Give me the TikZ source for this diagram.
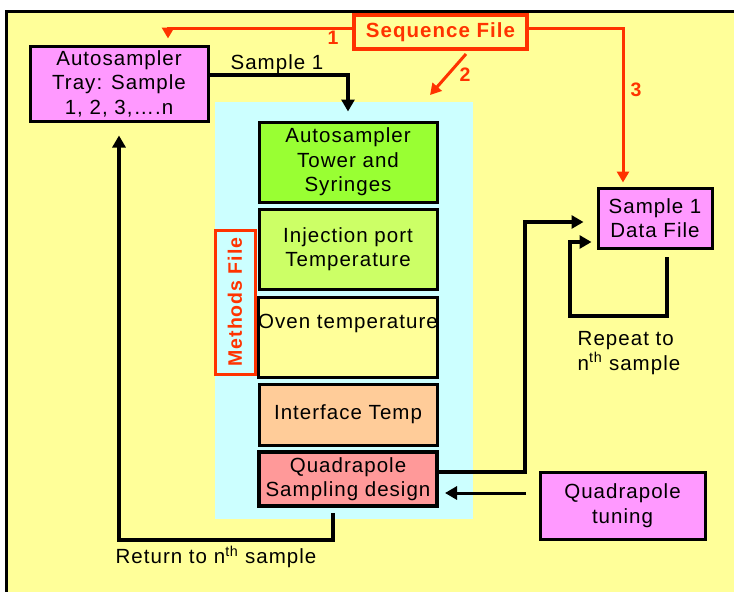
\documentclass[tikz,border=0pt]{standalone}
\usepackage{fontspec}
\setmainfont{Liberation Sans}[LetterSpace=5]
\usetikzlibrary{arrows.meta,calc}
\definecolor{bgyellow}{HTML}{FFFF99}
\definecolor{bgcyan}{HTML}{CCFFFF}
\definecolor{violetbox}{HTML}{FF99FF}
\definecolor{seqred}{HTML}{FF3300}
\definecolor{towergreen}{HTML}{99FF33}
\definecolor{injgreen}{HTML}{CCFF66}
\definecolor{ovenyellow}{HTML}{FFFF99}
\definecolor{ifpeach}{HTML}{FFCC99}
\definecolor{quadpink}{HTML}{FF9999}
\newcommand\myfs{\fontsize{20.5}{24.5}\selectfont}
\newcommand\mylab{\fontsize{19.5}{20}\selectfont\bfseries}
\begin{document}
\begin{tikzpicture}[x=1pt,y=-1pt,
  box/.style={draw=black, line width=3pt, align=center, inner sep=0pt, font=\myfs},
  redbox/.style={draw=seqred, line width=3.5pt, inner sep=0pt, text=seqred, font=\myfs\bfseries},
  blk/.style={draw=black, line width=4pt, -{Triangle[length=12pt,width=13pt]}},
  redarr/.style={draw=seqred, line width=3pt, -{Triangle[length=11pt,width=12pt]}},
  redlab/.style={text=seqred, font=\mylab, inner sep=0pt},
  plain/.style={font=\myfs, inner sep=0pt, align=left}]
\useasboundingbox (0,0) rectangle (734,592);
\fill[white] (0,0) rectangle (734,592);
\fill[bgyellow] (6,11) rectangle (734,592);
\draw[line width=3pt] (6,592) -- (6,11) -- (734,11);
% cyan methods area
\fill[bgcyan] (215,102) rectangle (473,519);

% nodes
\node[redbox, minimum width=173pt, minimum height=34pt] (seq) at (440.5,32) {Sequence File};
\node[box, fill=violetbox, minimum width=178pt, minimum height=75pt] (tray) at (119,83.5) {Autosampler\\Tray: Sample\\1, 2, 3,….n};
\node[box, fill=towergreen, minimum width=178pt, minimum height=80pt] (tower) at (348,162) {Autosampler\\Tower and\\Syringes};
\node[box, fill=injgreen, minimum width=178pt, minimum height=80pt] (inj) at (348,249) {Injection port\\Temperature};
\node[box, fill=ovenyellow, minimum width=178pt, minimum height=80pt] (oven) at (348,337) {Oven temperature\\\strut};
\node[box, fill=ifpeach, minimum width=178pt, minimum height=61pt] (iface) at (348,414.5) {Interface Temp};
\node[box, fill=quadpink, line width=3.5pt, minimum width=178pt, minimum height=54pt] (quad) at (348,479) {Quadrapole\\Sampling design};
\node[redbox, line width=3pt, rotate=90, minimum width=144pt, minimum height=40pt, font=\fontsize{19.5}{20}\selectfont\bfseries] (methods) at (235,302) {Methods File};
\node[box, fill=violetbox, minimum width=114pt, minimum height=60pt] (data) at (655,218) {Sample 1\\Data File};
\node[box, fill=violetbox, minimum width=165pt, minimum height=67pt] (tuning) at (622.5,505.5) {Quadrapole\\tuning};

% labels
\node[plain] (lsample) at (277,64) {Sample 1};
\node[plain] (lreturn) at (216,557) {Return to n\textsuperscript{th} sample};
\node[plain] (lrepeat) at (629,353) {Repeat to\\n\textsuperscript{th} sample};
\node[redlab] (l1) at (333,38) {1};
\node[redlab] (l2) at (465,75) {2};
\node[redlab] (l3) at (636,90) {3};

% red connectors
\draw[redarr, shorten >=6pt] ([yshift=4pt]seq.west) -| ([xshift=49pt]tray.north);
\coordinate (a2s) at (466,54);
\coordinate (a2e) at (430,95);
\draw[redarr] (a2s) -- (a2e);
\draw[redarr, shorten >=4pt] ([yshift=4pt]seq.east) -| ([xshift=-32pt]data.north);

% black connectors
\draw[blk, shorten >=9pt] ([yshift=9pt]tray.east) -| (tower.north);
\coordinate (rs) at (333,513);
\draw[blk, shorten >=13pt] (rs) -- (333,540) -| (tray.south);
\draw[blk, shorten >=13pt] ([yshift=7pt]quad.east) -- (525,472) |- ([yshift=-4pt]data.west);
\coordinate (ts) at (526,493);
\coordinate (te) at (445,493);
\draw[blk, line width=3pt] (ts) -- (te);
\coordinate (ls) at (667,257);
\draw[blk, shorten >=5pt] (ls) -- (667,316) -- (570,316) |- ([yshift=-24pt]data.west);
\end{tikzpicture}
\end{document}
